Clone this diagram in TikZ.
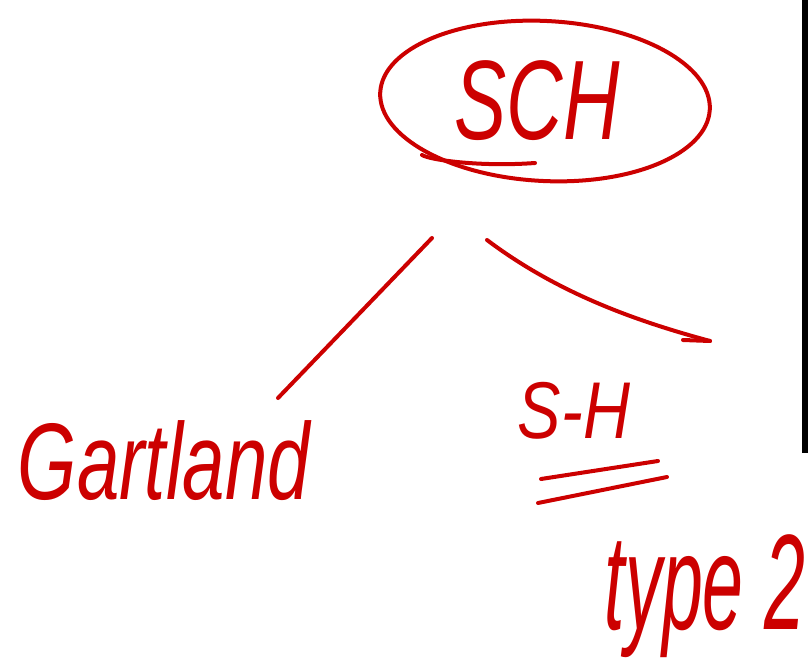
\documentclass[tikz,border=0pt]{standalone}
\usepackage{fontspec}
\setmainfont{Liberation Sans}
\usetikzlibrary{shapes.geometric}
\definecolor{ink}{RGB}{204,0,0}
\begin{document}
\begin{tikzpicture}[x=1pt,y=-1pt,
  pen/.style={draw=ink,line width=4pt,line cap=round,line join=round},
  word/.style={text=ink,inner sep=0pt,anchor=center}]
\useasboundingbox (0,0) rectangle (808,660);
\fill[black] (802,0) rectangle (808,453);
% root
\node[pen,ellipse,minimum width=330pt,minimum height=160pt,rotate=-3] (sch) at (545,101) {};
\node[word] (schtext) at (537,101) {\resizebox*{165pt}{80pt}{\itshape SCH}};
\draw[pen] (422,155) .. controls (430,160) and (480,167) .. (535,163);
% connectors
\coordinate (la) at (432,238);
\coordinate (lb) at (278,398);
\coordinate (ra) at (487,240);
\coordinate (rb) at (710,341);
\draw[pen] (la) -- (lb);
\draw[pen] (ra) .. controls (560,295) and (640,322) .. (rb);
\draw[pen] (rb) -- (683,340);
% leaves
\node[word] (gart) at (164,461) {\resizebox*{292pt}{80pt}{\itshape Gartland}};
\node[word] (sh) at (574,411) {\resizebox*{112pt}{57pt}{\itshape S-H}};
\draw[pen] (541,479) -- (658,461);
\draw[pen] (538,503) -- (667,477);
\node[word] (type) at (705,596) {\resizebox*{200pt}{123pt}{\itshape type 2}};
\end{tikzpicture}
\end{document}
